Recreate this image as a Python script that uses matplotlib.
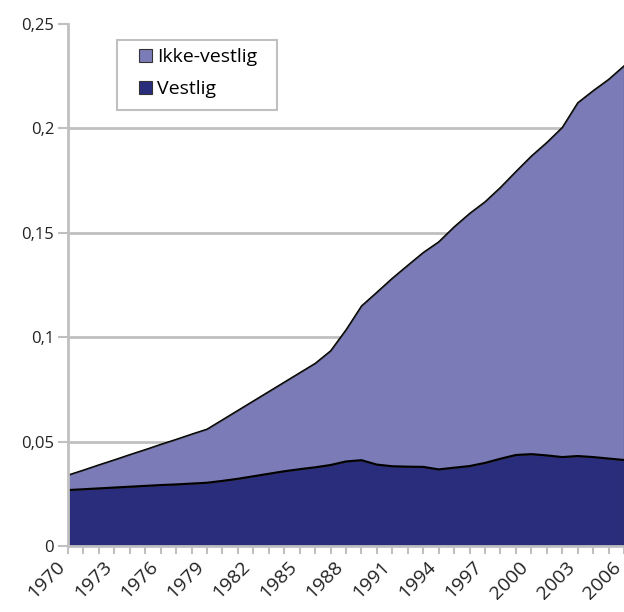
import matplotlib
matplotlib.use("Agg")
import matplotlib.pyplot as plt
import matplotlib.transforms as mtransforms
from matplotlib.patches import Rectangle
import numpy as np

years = list(range(1970, 2007))
vestlig = [0.0268, 0.0272, 0.0276, 0.0280, 0.0284, 0.0288, 0.0292, 0.0295, 0.0299, 0.0303,
           0.0312, 0.0322, 0.0334, 0.0346, 0.0358, 0.0368, 0.0377, 0.0388, 0.0405, 0.0411,
           0.0390, 0.0382, 0.0380, 0.0379, 0.0367, 0.0375, 0.0383, 0.0398, 0.0418, 0.0436,
           0.0440, 0.0434, 0.0426, 0.0431, 0.0426, 0.0419, 0.0412]
ikke_vestlig = [0.0072, 0.0092, 0.0113, 0.0133, 0.0154, 0.0174, 0.0195, 0.0216, 0.0237, 0.0257,
                0.0293, 0.0328, 0.0361, 0.0394, 0.0427, 0.0462, 0.0498, 0.0547, 0.0631, 0.0739,
                0.0826, 0.0901, 0.0965, 0.1027, 0.1090, 0.1154, 0.1210, 0.1251, 0.1300, 0.1358,
                0.1428, 0.1499, 0.1579, 0.1692, 0.1755, 0.1816, 0.1888]
label_years = list(range(1970, 2007, 3))
y_ticks = [0, 0.05, 0.1, 0.15, 0.2, 0.25]
y_labels = ["0", "0,05", "0,1", "0,15", "0,2", "0,25"]

plt.rcParams['font.family'] = ['Open Sans', 'DejaVu Sans']
plt.rcParams['font.size'] = 12

dark = "#2a2d7c"
light = "#7b7bb8"
gray = "#c0c0c0"
W, H = 624, 612

fig = plt.figure(figsize=(W / 100, H / 100), dpi=100)
ax = fig.add_axes([68 / W, 66 / H, 1 - 68 / W, 522 / H])

ax.stackplot(years, vestlig, ikke_vestlig, colors=[dark, light],
             labels=["Vestlig", "Ikke-vestlig"], zorder=2)
total = np.array(vestlig) + np.array(ikke_vestlig)
ax.plot(years, vestlig, color="black", lw=1.5, zorder=3)
ax.plot(years, total, color="black", lw=0.9, zorder=3)

for y in y_ticks[1:-1]:
    ax.axhline(y, color=gray, lw=2, zorder=1)

ax.set_xlim(1970, 2006)
ax.set_ylim(0, 0.25)
ax.set_yticks(y_ticks)
ax.set_yticklabels(y_labels)
ax.set_xticks(years)
ax.set_xticklabels([])

# year labels, rotated, placed a bit left of and below each tick
trans = ax.get_xaxis_transform() + mtransforms.ScaledTranslation(-12 / 100, -12 / 100,
                                                                 fig.dpi_scale_trans)
for yr in label_years:
    ax.text(yr, 0, str(yr), transform=trans, rotation=45, ha="right", va="top",
            rotation_mode="anchor", fontsize=14, color="#222222", clip_on=False)

for s in ["top", "right"]:
    ax.spines[s].set_visible(False)
for s in ["left", "bottom"]:
    ax.spines[s].set_color(gray)
    ax.spines[s].set_linewidth(2)
    ax.spines[s].set_zorder(4)
ax.tick_params(axis="y", length=7, width=1.5, color=gray, pad=3, labelcolor="#222222",
               labelsize=12)
ax.tick_params(axis="x", length=6, width=1.5, color=gray)

# legend frame drawn separately so the inner padding can differ by direction
fig.patches.append(Rectangle((117 / W, 1 - 110 / H), 160 / W, 70 / H,
                             transform=fig.transFigure, facecolor="white",
                             edgecolor=gray, lw=1.5, zorder=5))
h, l = ax.get_legend_handles_labels()
for p in h:
    p.set_edgecolor("#333333")
    p.set_linewidth(0.8)
leg = fig.legend(h[::-1], l[::-1], loc="upper left", bbox_to_anchor=(139 / W, 1 - 48 / H),
                 frameon=False, handlelength=0.68, handleheight=0.68,
                 handletextpad=0.25, borderpad=0, labelspacing=0.72, borderaxespad=0,
                 fontsize=14)
leg.set_zorder(6)

fig.savefig("out.png", dpi=100)
